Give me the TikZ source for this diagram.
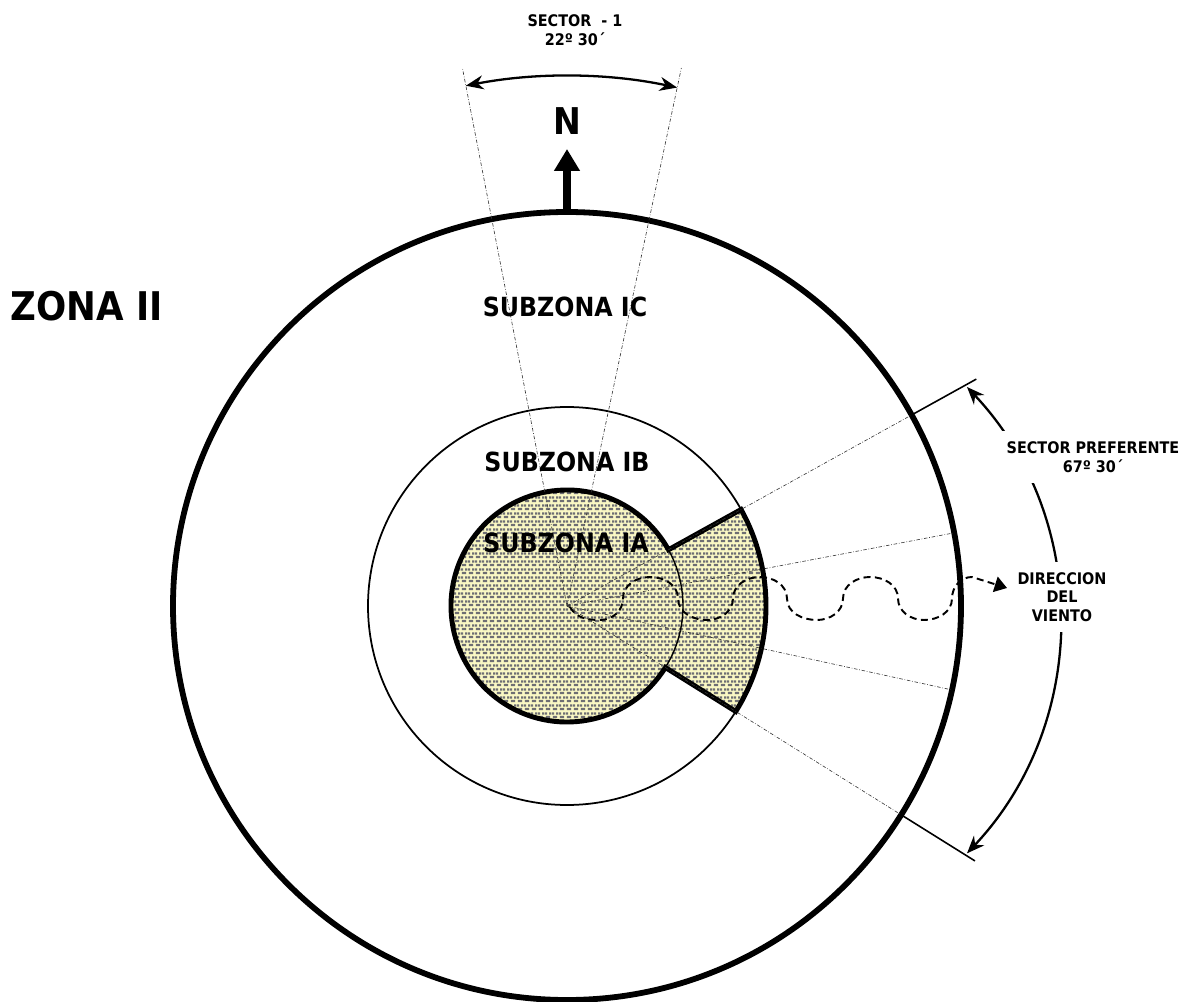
\documentclass[tikz,border=0pt]{standalone}
\usepackage{fontspec}
\setmainfont{DejaVu Sans}[FakeStretch=0.9]
\usetikzlibrary{arrows.meta,patterns.meta}
\definecolor{zonayellow}{RGB}{250,248,196}
\definecolor{zonadash}{RGB}{110,110,115}
\pgfdeclarepattern{
  name=zonacells,
  type=uncolored,
  bottom left={\pgfpoint{0pt}{0pt}},
  top right={\pgfpoint{3.8pt}{4.6pt}},
  tile size={\pgfpoint{3.8pt}{4.6pt}},
  code={
    \pgfpathrectangle{\pgfpoint{0.5pt}{0.5pt}}{\pgfpoint{2.6pt}{1.4pt}}
    \pgfpathrectangle{\pgfpoint{2.4pt}{2.8pt}}{\pgfpoint{1.4pt}{1.4pt}}
    \pgfpathrectangle{\pgfpoint{0pt}{2.8pt}}{\pgfpoint{1.2pt}{1.4pt}}
    \pgfusepath{fill}
  }
}
\begin{document}
\begin{tikzpicture}[
    x=0.02cm, y=0.02cm,
    font=\bfseries,
    big/.style={font=\fontsize{22.5}{26}\selectfont\bfseries},
    mid/.style={font=\fontsize{15}{18}\selectfont\bfseries},
    small/.style={font=\fontsize{9.1}{10.5}\selectfont\bfseries, align=center},
    ray/.style={line width=0.35pt, black!80, dash pattern=on 2pt off 1pt on 0.4pt off 1pt},
    dimarrow/.style={line width=1.3pt, {Stealth[length=10pt,width=8pt]}-{Stealth[length=10pt,width=8pt]}},
    wind/.style={line width=1.1pt, dash pattern=on 4pt off 2.5pt, -{Triangle[length=7pt,width=9pt]}},
    mask/.style={fill=white, inner sep=6pt}
    ]
\useasboundingbox (-567,-395) rectangle (626,606);
\coordinate (O) at (0,0);

\path[fill=zonayellow, postaction={pattern=zonacells, pattern color=zonadash}]
  (29:116) -- (29:199) arc[start angle=29, end angle=-32, radius=199]
  -- (-32:116) arc[start angle=-32, end angle=-331, radius=116] -- cycle;

\draw[line width=3.3pt] (O) circle[radius=394];
\draw[line width=1pt] (O) circle[radius=199];
\draw[line width=0.8pt] (O) circle[radius=116];
\draw[line width=2.8pt, line join=miter]
  (29:116) -- (29:199) arc[start angle=29, end angle=-32, radius=199]
  -- (-32:116) arc[start angle=-32, end angle=-331, radius=116] -- cycle;

\coordinate (s1) at (101:547);
\coordinate (s2) at (78:550);
\coordinate (pu) at (29:394);
\coordinate (pl) at (-32:394);
\coordinate (tu) at (29:468);
\coordinate (tl) at (-32:481);
\draw[ray] (O) -- (s1);
\draw[ray] (O) -- (s2);
\draw[ray] (O) -- (pu);
\draw[ray] (O) -- (10.7:394);
\draw[ray] (O) -- (-12.3:394);
\draw[ray] (O) -- (pl);
\draw[line width=0.9pt] (pu) -- (tu);
\draw[line width=0.9pt] (pl) -- (tl);

\draw[dimarrow] (101:530) arc[start angle=101, end angle=78, radius=530];
\draw[dimarrow] (400,219) arc[start angle=43.3, end angle=-43.3, radius=340];

\coordinate (nbase) at (0,394);
\coordinate (ntip) at (0,457);
\draw[line width=4.6pt, -{Triangle[length=12.5pt,width=14pt]}] (nbase) -- (ntip);

\coordinate (wtip) at (440,18);
\draw[wind] (3,-1) to[out=-60,in=180] (33,-14) to[out=0,in=-90] (56,7.5)
  to[out=90,in=180] (83,29) to[out=0,in=90] (111,7.5) to[out=-90,in=180] (140,-14)
  to[out=0,in=-90] (166,7.5) to[out=90,in=180] (193,29) to[out=0,in=90] (220,7.5)
  to[out=-90,in=180] (250,-14) to[out=0,in=-90] (276,7.5) to[out=90,in=180] (303,29)
  to[out=0,in=90] (331,7.5) to[out=-90,in=180] (357,-14) to[out=0,in=-90] (385,7.5)
  to[out=90,in=180] (405,29) -- (wtip);

\node[small] (sector1) at (8,576) {SECTOR \ - 1\\22º 30´};
\node[font=\fontsize{21}{24}\selectfont\bfseries] (norte) at (0,485) {N};
\node[big] (zonaii) at (-480,300) {ZONA II};
\node[mid] (subic) at (-2,299) {SUBZONA IC};
\node[mid] (subib) at (0,144) {SUBZONA IB};
\node[mid] (subia) at (-1,63) {SUBZONA IA};
\node[small, mask] (sectorpref) at (526,149) {SECTOR PREFERENTE\\67º 30´};
\node[small, mask] (viento) at (495,9) {DIRECCION\\DEL\\VIENTO};
\end{tikzpicture}
\end{document}
